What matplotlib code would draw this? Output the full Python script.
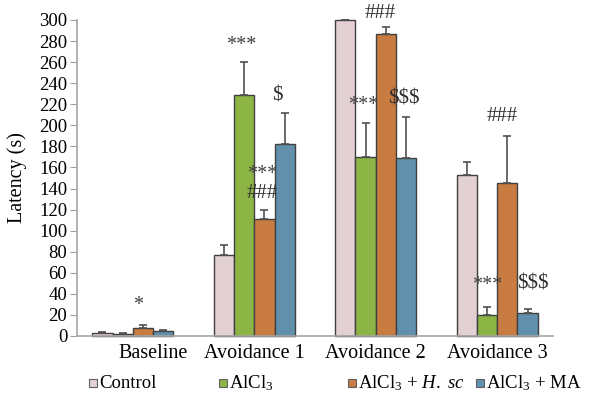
import matplotlib
matplotlib.use("Agg")
import matplotlib.pyplot as plt
import matplotlib.transforms as mtransforms
from matplotlib.patches import Rectangle
import numpy as np

plt.rcParams['font.family'] = ['Liberation Serif', 'DejaVu Serif']
plt.rcParams['mathtext.fontset'] = 'custom'
plt.rcParams['mathtext.rm'] = 'Liberation Serif'
plt.rcParams['mathtext.it'] = 'Liberation Serif:italic'

# Test phases and treatment groups
categories = ["Baseline", "Avoidance 1", "Avoidance 2", "Avoidance 3"]
groups = ["Control", r"AlCl$_3$", r"AlCl$_3$ + $\it{H.}$ $\it{sc}$", r"AlCl$_3$ + MA"]

# Mean latency (s) per group for each phase
control = [3.2, 76.6, 300.0, 153.0]
alcl3 = [2.2, 228.8, 170.0, 19.6]
alcl3_hsc = [7.9, 110.8, 287.0, 145.0]
alcl3_ma = [4.7, 182.0, 169.0, 21.8]

# Upper error (SEM) per group
control_err = [0.3, 9.5, 0.0, 12.0]
alcl3_err = [0.8, 31.7, 32.5, 8.3]
alcl3_hsc_err = [2.8, 8.5, 6.0, 44.6]
alcl3_ma_err = [1.0, 30.0, 39.0, 4.1]

# Significance marks: (phase index, x offset in group units, y position, text)
marks = [
    (0, 0.04, 29, "*"),
    (1, -0.11, 276, "***"),
    (1, 0.19, 228, "$"),
    (1, 0.066, 153, "***"),
    (1, 0.066, 135, "###"),
    (2, 0.04, 306, "###"),
    (2, -0.107, 219, "***"),
    (2, 0.23, 225, "$$$"),
    (3, 0.04, 208, "###"),
    (3, -0.08, 48, "***"),
    (3, 0.29, 49, "$$$"),
]

colors = ["#e3d0d2", "#8db546", "#c97c42", "#6190ad"]
values = [control, alcl3, alcl3_hsc, alcl3_ma]
errors = [control_err, alcl3_err, alcl3_hsc_err, alcl3_ma_err]

fig = plt.figure(figsize=(5.9, 3.95), dpi=100)
ax = fig.add_axes([77 / 590, 59 / 395, 476 / 590, 316 / 395])

x = np.arange(len(categories))
width = 0.167
for i, (vals, errs, col) in enumerate(zip(values, errors, colors)):
    pos = x + (i - 1.5) * width
    ax.bar(pos, vals, width, color=col, edgecolor="#404040", linewidth=1.0,
           clip_on=False, zorder=2)
    ax.errorbar(pos, vals, yerr=[np.zeros(len(errs)), errs], fmt="none",
                ecolor="#505050", elinewidth=1.2, capsize=3, capthick=1.2,
                zorder=3, clip_on=False)

for gi, off, yv, txt in marks:
    if "*" in txt:
        ax.text(gi + off, yv, txt, ha="center", va="center", fontsize=14.5,
                color="#404040")
    else:
        ax.text(gi + off, yv, txt.replace("$", r"\$"), ha="center",
                va="center", fontsize=15, color="#303030")

ax.set_xlim(-0.46, 3.46)
ax.set_ylim(0, 300)
ax.set_yticks(np.arange(0, 301, 20))
ax.set_xticks(x)
ax.set_xticklabels(categories, fontsize=14.5)
ax.tick_params(axis="y", labelsize=13.5, length=5, color="#a0a0a0", pad=2,
               direction="out")
ax.tick_params(axis="x", length=0, pad=6)

# shift the first phase label slightly to the right
lab0 = ax.get_xticklabels()[0]
lab0.set_transform(lab0.get_transform() +
                   mtransforms.ScaledTranslation(20 / 100, 0, fig.dpi_scale_trans))

for side in ("top", "right"):
    ax.spines[side].set_visible(False)
for side in ("left", "bottom"):
    ax.spines[side].set_color("#a6a6a6")
    ax.spines[side].set_linewidth(1.2)

ax.set_ylabel("Latency (s)", fontsize=14.5)
ax.yaxis.set_label_coords(-0.105, 0.5)

# Legend along the bottom
legend_x = [93, 223, 352, 480]
legend_y = 383
for lx, label, col in zip(legend_x, groups, colors):
    fig.patches.append(Rectangle(((lx - 4) / 590, 1 - (legend_y + 4) / 395),
                                 8 / 590, 8 / 395, transform=fig.transFigure,
                                 facecolor=col, edgecolor="#606060",
                                 linewidth=0.8))
    fig.text((lx + 6) / 590, 1 - legend_y / 395, label, fontsize=13.5,
             va="center", ha="left")

fig.savefig("out.png", dpi=100)
